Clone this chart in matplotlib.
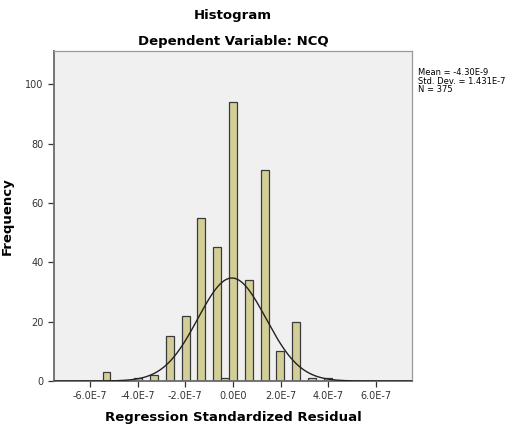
import numpy as np
import matplotlib.pyplot as plt

# histogram of regression standardized residuals
bin_width = 3.32e-8
bin_index = [-16, -12, -10, -8, -6, -4, -2, -1, 0, 2, 4, 6, 8, 10, 12]
counts = [3, 1, 2, 15, 22, 55, 45, 1, 94, 34, 71, 10, 20, 1, 1]
mean = -4.30e-9
std = 1.431e-7
n = 375
x_ticks = [-6e-7, -4e-7, -2e-7, 0, 2e-7, 4e-7, 6e-7]
x_labels = ['-6.0E-7', '-4.0E-7', '-2.0E-7', '0.0E0', '2.0E-7', '4.0E-7', '6.0E-7']
y_ticks = [0, 20, 40, 60, 80, 100]

centers = [i * bin_width for i in bin_index]

fig = plt.figure(figsize=(5.18, 4.25), dpi=100)
ax = fig.add_axes([0.1042, 0.1035, 0.6911, 0.7765])
ax.set_facecolor('#f0f0f0')

ax.bar(centers, counts, width=bin_width, color='#d3ce97',
       edgecolor='#3a3a3a', linewidth=0.9, zorder=2)

xs = np.linspace(-7.5e-7, 7.5e-7, 400)
curve = n * bin_width / (std * np.sqrt(2 * np.pi)) * np.exp(-0.5 * ((xs - mean) / std) ** 2)
ax.plot(xs, curve, color='#222222', linewidth=1.0, zorder=3)

ax.set_xlim(-7.52e-7, 7.52e-7)
ax.set_ylim(0, 111.2)
ax.set_xticks(x_ticks)
ax.set_xticklabels(x_labels)
ax.set_yticks(y_ticks)
ax.tick_params(labelsize=7, colors='#333333', length=4, width=0.9)

for side in ['top', 'right']:
    ax.spines[side].set_color('#9a9a9a')
    ax.spines[side].set_linewidth(0.9)
for side in ['left', 'bottom']:
    ax.spines[side].set_color('#6a6a6a')
    ax.spines[side].set_linewidth(1.3)

ax.set_xlabel('Regression Standardized Residual', fontsize=9.5, fontweight='bold', labelpad=7)
ax.set_ylabel('Frequency', fontsize=9.5, fontweight='bold', labelpad=8)

fig.text(0.45, 0.963, 'Histogram', ha='center', va='center', fontsize=9.5, fontweight='bold')
fig.text(0.45, 0.903, 'Dependent Variable: NCQ', ha='center', va='center', fontsize=9.5, fontweight='bold')
fig.text(0.807, 0.84, 'Mean = -4.30E-9\nStd. Dev. = 1.431E-7\nN = 375',
         ha='left', va='top', fontsize=6, linespacing=0.95)

fig.savefig('out.png', dpi=100)
